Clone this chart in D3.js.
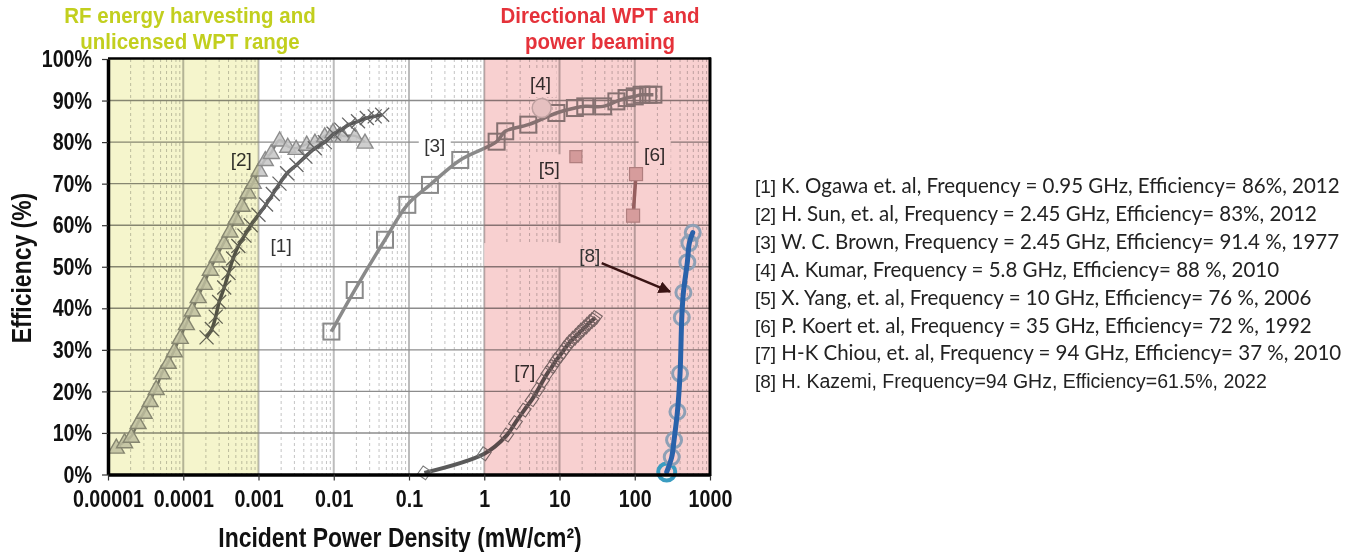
<!DOCTYPE html>
<html><head><meta charset="utf-8">
<script src="https://cdn.jsdelivr.net/npm/d3@7"></script>
<style>
body{margin:0;background:#fff;}
svg{display:block}
.narrow{font-family:"Liberation Sans",Arial,sans-serif;font-weight:bold;}
</style></head><body>
<svg id="c" width="1361" height="552"></svg>
<script>
// ---- tick labels ----
const xTicks = [1e-5,1e-4,1e-3,1e-2,1e-1,1,10,100,1000];
const xTickLabels = ["0.00001","0.0001","0.001","0.01","0.1","1","10","100","1000"];
const yTicks = [0,10,20,30,40,50,60,70,80,90,100];
const yTickLabels = ["0%","10%","20%","30%","40%","50%","60%","70%","80%","90%","100%"];

// ---- series [1] K. Ogawa ----
const s1x = [2.04e-4,2.4e-4,2.7e-4,3.0e-4,3.5e-4,4.0e-4,4.6e-4,5.4e-4,6.5e-4,7.9e-4,1.0e-3,1.26e-3,1.55e-3,1.9e-3,2.4e-3,3.2e-3,4.2e-3,5.6e-3,7.6e-3,1.0e-2,1.26e-2,1.6e-2,2.1e-2,2.75e-2,3.5e-2,4.4e-2];
const s1y = [33,35,38,41.5,45,48.5,52,55,57.5,60,62.5,65,67.5,70,72.5,74.5,76.5,78.5,80,82,83,84.2,85,85.8,86.2,86.6];
// ---- series [2] H. Sun ----
const s2x = [1.29e-5,1.66e-5,2.04e-5,2.51e-5,3.02e-5,3.63e-5,4.37e-5,5.25e-5,6.31e-5,7.59e-5,9.12e-5,1.10e-4,1.32e-4,1.58e-4,1.91e-4,2.29e-4,2.82e-4,3.47e-4,4.17e-4,5.01e-4,6.03e-4,7.24e-4,8.51e-4,1.02e-3,1.23e-3,1.48e-3,1.91e-3,2.45e-3,3.16e-3,4.37e-3,5.62e-3,7.59e-3,9.77e-3,1.32e-2,1.91e-2,2.6e-2];
const s2y = [6.6,7.9,9.2,12.5,15,17.8,20.7,24.5,27,29.8,33,36.3,39.6,42.8,46,49.4,52.6,55.8,58.6,61.7,64.8,68,70.3,73.3,75.8,77.5,80.5,79,78.5,79.5,80,81.5,82.5,81.5,81.5,80];
// ---- series [3] W. C. Brown ----
const s3x = [0.0093,0.019,0.048,0.095,0.19,0.48,1.46,1.9,3.85,9.1,16,22,38,57,78,100,123,151,177];
const s3y = [34.4,44.4,56.5,64.9,69.7,75.7,80.1,82.6,84.2,87,88.2,88.6,88.6,89.8,90.6,91,91.4,91.4,91.4];
// ---- series [4] A. Kumar ----
const s4x = [5.8];
const s4y = [88.2];
// ---- series [5] X. Yang ----
const s5x = [16.5];
const s5y = [76.5];
// ---- series [6] P. Koert ----
const s6x = [104,95];
const s6y = [72.3,62.3];
// ---- series [7] H-K Chiou ----
const s7x = [0.16,1.0,2.0,2.6,3.4,4.3,5.2,6.0,7.0,8.0,9.0,10,11,12,13,14,15.5,17,18.5,20,22,24,26,28,30];
const s7y = [0.4,5,9.5,12.5,15.5,18,20.5,22.5,24.5,26,27.5,28.5,29.5,30.5,31.3,32,32.8,33.5,34.2,34.8,35.5,36.2,36.8,37.3,37.8];
// ---- series [8] H. Kazemi ----
const s8x = [266,310,333,369,400,422,443,500,532,590];
const s8y = [0.6,4.2,8.3,15.1,24.3,37.8,43.8,51.1,55.7,58.2];

// ---- point labels ----
const labelText = ["[1]","[2]","[3]","[4]","[5]","[6]","[7]","[8]"];
const labelX = [2.0e-3,5.9e-4,0.22,5.6,7.3,184,3.45,25.2];
const labelY = [55,75.9,79.3,94.2,73.7,76.9,24.7,52.8];

// ---- legend ----
const legendNums = ["[1]","[2]","[3]","[4]","[5]","[6]","[7]","[8]"];
const legendText = [
 " K. Ogawa et. al, Frequency = 0.95 GHz, Efficiency= 86%, 2012",
 " H. Sun, et. al, Frequency = 2.45 GHz, Efficiency= 83%, 2012",
 " W. C. Brown, Frequency = 2.45 GHz, Efficiency= 91.4 %, 1977",
 " A. Kumar, Frequency = 5.8 GHz, Efficiency= 88 %, 2010",
 " X. Yang, et. al, Frequency = 10 GHz, Efficiency= 76 %, 2006",
 " P. Koert et. al, Frequency = 35 GHz, Efficiency= 72 %, 1992",
 " H-K Chiou, et. al, Frequency = 94 GHz, Efficiency= 37 %, 2010",
 " H. Kazemi, Frequency=94 GHz, Efficiency=61.5%, 2022"];

// ---- region titles ----
const regionTitleLeft = ["RF energy harvesting and","unlicensed WPT range"];
const regionTitleRight = ["Directional WPT and","power beaming"];

// ---- regions ----
const regionYellow = [1e-5,1e-3];
const regionRed = [1,1000];

const SX = 0.82; // horizontal condensing for the narrow bold font
const svg = d3.select("#c");
const L=108, R=710, T=59, B=474.5;
const x = d3.scaleLog().domain([1e-5,1000]).range([L,R]);
const y = d3.scaleLinear().domain([0,100]).range([B,T]);

const g = svg.append("g");
g.append("rect").attr("x",L).attr("y",T).attr("width",R-L).attr("height",B-T).attr("fill","#fff");

// minor dashed verticals
const allTicks = x.ticks();
const minor = allTicks.filter(v => Math.abs(Math.log10(v)-Math.round(Math.log10(v)))>1e-6);
g.selectAll(".mv").data(minor).enter().append("line")
 .attr("x1",d=>x(d)).attr("x2",d=>x(d)).attr("y1",T).attr("y2",B)
 .attr("stroke","#c4c4c4").attr("stroke-width",1).attr("stroke-dasharray","3,3");
// major verticals
g.selectAll(".Mv").data(xTicks.slice(1,-1)).enter().append("line")
 .attr("x1",d=>x(d)).attr("x2",d=>x(d)).attr("y1",T).attr("y2",B)
 .attr("stroke","#bcbcbc").attr("stroke-width",2);
// horizontal gridlines
g.selectAll(".hg").data(yTicks.slice(1,-1)).enter().append("line")
 .attr("x1",L).attr("x2",R).attr("y1",d=>y(d)).attr("y2",d=>y(d))
 .attr("stroke","#8c8c8c").attr("stroke-width",1.4);

// label backing patch near [8]
g.append("rect").attr("x",x(1)).attr("y",y(55.7)).attr("width",x(19)-x(1)).attr("height",y(50.2)-y(55.7)).attr("fill","#fff");

// label backgrounds
const lbl = labelText.map((t,i)=>({t,x:labelX[i],y:labelY[i]}));
g.selectAll(".lb").data(lbl.slice(0,7)).enter().append("rect")
 .attr("x",d=>x(d.x)-16).attr("y",d=>y(d.y)-14).attr("width",32).attr("height",28).attr("fill","#fff");

// series 3
const line = d3.line().x(d=>x(d[0])).y(d=>y(d[1])).curve(d3.curveCatmullRom.alpha(0.5));
const zip = (a,b)=>a.map((v,i)=>[v,b[i]]);
const d3s = zip(s3x,s3y);
g.append("path").attr("d",line(d3s)).attr("fill","none").attr("stroke","#8a8a8a").attr("stroke-width",3.5);
g.selectAll(".s3").data(d3s).enter().append("rect")
 .attr("x",d=>x(d[0])-8).attr("y",d=>y(d[1])-8).attr("width",16).attr("height",16)
 .attr("fill","none").attr("stroke","#8a8a8a").attr("stroke-width",2);

// series 7
const d7 = zip(s7x,s7y);
g.append("path").attr("d",line(d7)).attr("fill","none").attr("stroke","#5a5a5a").attr("stroke-width",4);
g.selectAll(".s7").data(d7).enter().append("path")
 .attr("d",d=>{const cx=x(d[0]),cy=y(d[1]);return `M${cx-7},${cy}L${cx},${cy-7}L${cx+7},${cy}L${cx},${cy+7}Z`;})
 .attr("transform",d=>`rotate(-10,${x(d[0])},${y(d[1])})`)
 .attr("fill","none").attr("stroke","#7a7a7a").attr("stroke-width",1.1);

// series 2 triangles
const d2 = zip(s2x,s2y);
g.append("path").attr("d",line(d2)).attr("fill","none").attr("stroke","#777").attr("stroke-width",2.5);
g.selectAll(".s2").data(d2).enter().append("path")
 .attr("d",d=>{const cx=x(d[0]),cy=y(d[1]);return `M${cx},${cy-8}L${cx+8},${cy+6}L${cx-8},${cy+6}Z`;})
 .attr("fill","#c6c6c6").attr("fill-opacity",0.85).attr("stroke","#8c8c8c").attr("stroke-width",1.4);

// series 1
const d1 = zip(s1x,s1y);
g.append("path").attr("d",line(d1)).attr("fill","none").attr("stroke","#555").attr("stroke-width",3.5);
g.selectAll(".s1").data(d1).enter().append("path")
 .attr("d",d=>{const cx=x(d[0]),cy=y(d[1]);return `M${cx-7},${cy-7}L${cx+7},${cy+7}M${cx-7},${cy+7}L${cx+7},${cy-7}`;})
 .attr("stroke","#666").attr("stroke-width",1.3);

// series 4
g.selectAll(".s4").data(zip(s4x,s4y)).enter().append("circle")
 .attr("cx",d=>x(d[0])).attr("cy",d=>y(d[1])).attr("r",9.5)
 .attr("fill","#ececec").attr("stroke","#c4c4c4").attr("stroke-width",1.5);
// series 5
g.selectAll(".s5").data(zip(s5x,s5y)).enter().append("rect")
 .attr("x",d=>x(d[0])-6).attr("y",d=>y(d[1])-6).attr("width",12).attr("height",12)
 .attr("fill","#d9bdbd").attr("stroke","#b59a9a").attr("stroke-width",1.2);
// series 6
const d6 = zip(s6x,s6y);
g.append("path").attr("d",d3.line().x(d=>x(d[0])).y(d=>y(d[1]))(d6)).attr("fill","none").attr("stroke","#9a7474").attr("stroke-width",3.5);
g.selectAll(".s6").data(d6).enter().append("rect")
 .attr("x",d=>x(d[0])-6.5).attr("y",d=>y(d[1])-6.5).attr("width",13).attr("height",13)
 .attr("fill","#dcc0c0").attr("stroke","#b59a9a").attr("stroke-width",1.2);

// labels 1-7
g.selectAll(".lt").data(lbl.slice(0,7)).enter().append("text")
 .attr("x",d=>x(d.x)).attr("y",d=>y(d.y)+6.5).attr("text-anchor","middle")
 .attr("font-family","Liberation Sans, Arial, sans-serif").attr("font-size",19).attr("fill","#333").text(d=>d.t);

// overlays (multiply)
g.append("rect").attr("x",x(regionYellow[0])).attr("y",T).attr("width",x(regionYellow[1])-x(regionYellow[0])).attr("height",B-T)
 .attr("fill","#f5f5cc").style("mix-blend-mode","multiply");
g.append("rect").attr("x",x(regionRed[0])).attr("y",T).attr("width",x(regionRed[1])-x(regionRed[0])).attr("height",B-T)
 .attr("fill","#f8d0d0").style("mix-blend-mode","multiply");

// series 8
const d8 = zip(s8x,s8y);
g.selectAll(".s8").data(d8).enter().append("circle")
 .attr("cx",d=>x(d[0])).attr("cy",d=>y(d[1])).attr("r",(d,i)=>i===0?8.5:7.5)
 .attr("fill","none").attr("stroke",(d,i)=>i===0?"#3a9cc0":"#8ea0b6").attr("stroke-width",(d,i)=>i===0?4:3);
g.append("path").attr("d",line(d8)).attr("fill","none").attr("stroke","#2a62aa").attr("stroke-width",5).attr("stroke-linecap","round");

// arrow for [8]
svg.append("defs").append("marker").attr("id","ah").attr("viewBox","0 0 10 10").attr("refX",9).attr("refY",5)
 .attr("markerWidth",5).attr("markerHeight",5).attr("orient","auto")
 .append("path").attr("d","M0,0L10,5L0,10Z").attr("fill","#3a1414");
const l8 = lbl[7];
g.append("line").attr("x1",x(l8.x)+12).attr("y1",y(l8.y)+8).attr("x2",x(400)-10).attr("y2",y(44))
 .attr("stroke","#3a1414").attr("stroke-width",2.5).attr("marker-end","url(#ah)");
g.append("text").attr("x",x(l8.x)).attr("y",y(l8.y)+6.5).attr("text-anchor","middle")
 .attr("font-family","Liberation Sans, Arial, sans-serif").attr("font-size",19).attr("fill","#333").text(l8.t);

// axes
const ya = svg.append("g").attr("transform",`translate(${L},0)`)
 .call(d3.axisLeft(y).tickValues(yTicks).tickFormat((d,i)=>yTickLabels[i]).tickSize(6).tickSizeOuter(0).tickPadding(10));
ya.select(".domain").attr("stroke","#000").attr("stroke-width",3.5);
ya.selectAll(".tick line").attr("stroke","#333").attr("stroke-width",1.2);
ya.selectAll("text").attr("class","narrow").attr("font-size",24).attr("fill","#111")
  .attr("x",-16/SX).attr("transform",`scale(${SX},1)`);
const xa = svg.append("g").attr("transform",`translate(0,${B})`)
 .call(d3.axisBottom(x).tickValues(xTicks).tickFormat((d,i)=>xTickLabels[i]).tickSize(6).tickSizeOuter(0).tickPadding(9));
xa.select(".domain").attr("stroke","#000").attr("stroke-width",3.5);
xa.selectAll(".tick line").attr("stroke","#333").attr("stroke-width",1.2);
xa.selectAll("text").attr("class","narrow").attr("font-size",24).attr("fill","#111")
  .attr("transform",`scale(${SX},1)`);
// top & right frame
svg.append("line").attr("x1",L).attr("x2",R+1).attr("y1",T-0.5).attr("y2",T-0.5).attr("stroke","#000").attr("stroke-width",2.5);
svg.append("line").attr("x1",R).attr("x2",R).attr("y1",T-1.5).attr("y2",B+1.5).attr("stroke","#000").attr("stroke-width",3);

// axis titles
svg.append("text").attr("class","narrow").attr("transform",`translate(400,547) scale(${SX},1)`).attr("text-anchor","middle")
 .attr("font-size",28).attr("fill","#111").text("Incident Power Density (mW/cm²)");
svg.append("text").attr("class","narrow").attr("transform",`translate(31,268) rotate(-90) scale(${SX},1)`).attr("text-anchor","middle")
 .attr("font-size",28).attr("fill","#111").text("Efficiency (%)");

// region titles
const ann = [[regionTitleLeft[0],190,22.5,"#c2cf1e"],[regionTitleLeft[1],190,49,"#c2cf1e"],
             [regionTitleRight[0],600,22.5,"#e5323a"],[regionTitleRight[1],600,49,"#e5323a"]];
const SXA = 0.91;
svg.selectAll(".ann").data(ann).enter().append("text").attr("class","narrow")
 .attr("transform",d=>`translate(${d[1]},${d[2]}) scale(${SXA},1)`).attr("text-anchor","middle")
 .attr("font-size",22.5).attr("fill",d=>d[3]).text(d=>d[0]);

// legend
const lg = svg.append("g");
legendText.forEach((t,i)=>{
  const tx = lg.append("text").attr("x",755).attr("y",193+i*27.9)
    .attr("font-family", i===7 ? "Liberation Sans, Arial, sans-serif" : "Lato, 'Open Sans', sans-serif")
    .attr("font-size", i===7 ? 19.5 : 20.5).attr("fill","#222");
  tx.append("tspan").attr("font-family","Liberation Sans, Arial, sans-serif").attr("font-size",19).text(legendNums[i]);
  tx.append("tspan").text(t);
});
</script>
</body></html>
